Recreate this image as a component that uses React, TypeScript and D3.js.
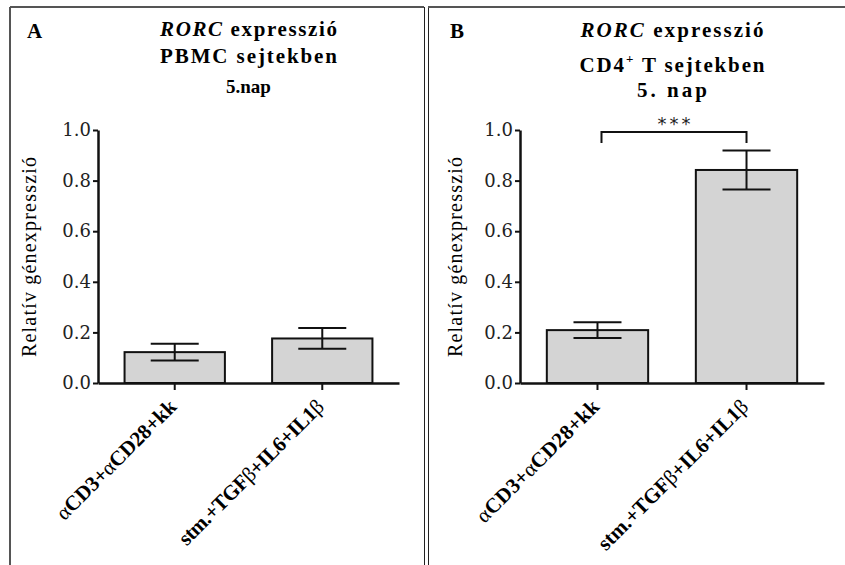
import React, { useRef, useEffect } from "react";
import * as d3 from "d3";

// x categories (greek letters are drawn in regular weight)
const categories = ["αCD3+αCD28+kk", "stm.+TGFβ+IL6+IL1β"];
const yTicks = [0, 0.2, 0.4, 0.6, 0.8, 1.0];

// panel A: PBMC
const pbmcMeans = [0.122, 0.176];
const pbmcErrors = [0.033, 0.041];

// panel B: CD4+ T cells
const cd4Means = [0.209, 0.842];
const cd4Errors = [0.031, 0.077];

const WIDTH = 845;
const HEIGHT = 565;
const SERIF = "'Liberation Serif', 'Times New Roman', serif";
const TICK_FONT = "'DejaVu Serif', serif";

type Panel = {
  letter: string;
  letterX: number;
  x0: number;
  x1: number;
  yLabelX: number;
  titleY: number[];
  titleW: (number | null)[];
  labelW: number[];
  means: number[];
  errors: number[];
  sig?: string;
};

function App() {
  const svgRef = useRef<SVGSVGElement>(null);

  useEffect(() => {
    const svg = d3.select(svgRef.current);
    svg.selectAll("*").remove();

    // frames
    svg.append("line").attr("x1", 10).attr("x2", 424).attr("y1", 7).attr("y2", 7)
      .attr("stroke", "#555").attr("stroke-width", 2);
    svg.append("line").attr("x1", 10).attr("x2", 10).attr("y1", 7).attr("y2", HEIGHT)
      .attr("stroke", "#555").attr("stroke-width", 2);
    svg.append("line").attr("x1", 424.5).attr("x2", 424.5).attr("y1", 7).attr("y2", HEIGHT)
      .attr("stroke", "#222").attr("stroke-width", 1);
    svg.append("line").attr("x1", 428.5).attr("x2", 428.5).attr("y1", 7).attr("y2", HEIGHT)
      .attr("stroke", "#222").attr("stroke-width", 1);
    svg.append("line").attr("x1", 428).attr("x2", WIDTH).attr("y1", 7).attr("y2", 7)
      .attr("stroke", "#555").attr("stroke-width", 2);

    const y = d3.scaleLinear().domain([0, 1]).range([383, 130]);

    const panels: Panel[] = [
      {
        letter: "A", letterX: 27, x0: 98, x1: 399, yLabelX: 30,
        titleY: [36, 63, 93], titleW: [177, 177, null], labelW: [160, 196],
        means: pbmcMeans, errors: pbmcErrors,
      },
      {
        letter: "B", letterX: 450, x0: 520, x1: 824, yLabelX: 456,
        titleY: [37, 72, 97], titleW: [183, 185, 70], labelW: [164, 203],
        means: cd4Means, errors: cd4Errors, sig: "***",
      },
    ];

    panels.forEach((p, pi) => {
      const g = svg.append("g");
      const cx = (p.x0 + p.x1) / 2;

      const x = d3.scaleBand<string>()
        .domain(categories)
        .range([p.x0, p.x1])
        .paddingInner(0.32)
        .paddingOuter(0.18);

      // panel letter
      g.append("text").attr("x", p.letterX).attr("y", 38)
        .attr("font-family", SERIF).attr("font-weight", "bold").attr("font-size", 21)
        .text(p.letter);

      // title
      const title = (line: number) => {
        const t = g.append("text").attr("x", cx).attr("y", p.titleY[line])
          .attr("text-anchor", "middle").attr("font-family", SERIF)
          .attr("font-weight", "bold").attr("font-size", line === 2 && pi === 0 ? 19 : 21);
        const w = p.titleW[line];
        if (w) t.attr("textLength", w).attr("lengthAdjust", "spacing");
        return t;
      };

      const t1 = title(0);
      t1.append("tspan").attr("font-style", "italic").text("RORC");
      t1.append("tspan").text(" expresszió");

      const t2 = title(1);
      if (pi === 0) {
        t2.text("PBMC sejtekben");
      } else {
        t2.append("tspan").text("CD4");
        t2.append("tspan").attr("dy", -9).attr("font-size", 13).text("+");
        t2.append("tspan").attr("dy", 9).text(" T sejtekben");
      }

      title(2).text(pi === 0 ? "5.nap" : "5. nap");

      // bars
      g.selectAll(".bar")
        .data(p.means)
        .enter()
        .append("rect")
        .attr("x", (_, i) => x(categories[i])!)
        .attr("y", (d) => y(d))
        .attr("width", x.bandwidth())
        .attr("height", (d) => y(0) - y(d))
        .attr("fill", "#d4d4d4")
        .attr("stroke", "#111")
        .attr("stroke-width", 2);

      // error bars
      p.means.forEach((m, i) => {
        const bx = x(categories[i])! + x.bandwidth() / 2;
        const hi = y(m + p.errors[i]);
        const lo = y(m - p.errors[i]);
        g.append("line").attr("x1", bx).attr("x2", bx).attr("y1", hi).attr("y2", lo)
          .attr("stroke", "#111").attr("stroke-width", 2);
        [hi, lo].forEach((yy) => {
          g.append("line").attr("x1", bx - 24).attr("x2", bx + 24).attr("y1", yy).attr("y2", yy)
            .attr("stroke", "#111").attr("stroke-width", 2);
        });
      });

      // y axis
      const yAxis = g.append("g")
        .attr("transform", `translate(${p.x0},0)`)
        .call(d3.axisLeft(y).tickValues(yTicks).tickFormat(d3.format(".1f")).tickSize(5).tickSizeOuter(0));
      yAxis.select(".domain").attr("stroke", "#111").attr("stroke-width", 2.5);
      yAxis.selectAll(".tick line").attr("stroke", "#111").attr("stroke-width", 2);
      yAxis.selectAll(".tick text")
        .attr("font-family", TICK_FONT).attr("font-size", 18).attr("fill", "#222").attr("x", -7);

      // x axis
      const xAxis = g.append("g")
        .attr("transform", `translate(0,${y(0)})`)
        .call(d3.axisBottom(x).tickSize(7).tickSizeOuter(0).tickFormat(() => ""));
      xAxis.select(".domain").attr("stroke", "#111").attr("stroke-width", 2.5);
      xAxis.selectAll(".tick line").attr("stroke", "#111").attr("stroke-width", 2);

      // rotated category labels
      categories.forEach((c, ci) => {
        const tx = x(c)! + x.bandwidth() / 2;
        const lab = g.append("text")
          .attr("transform", `translate(${tx + 3},${y(0) + 25}) rotate(-45)`)
          .attr("text-anchor", "end")
          .attr("font-family", SERIF).attr("font-size", 21).attr("font-weight", "bold")
          .attr("textLength", p.labelW[ci]).attr("lengthAdjust", "spacing");
        c.split(/([αβ])/).filter((s) => s).forEach((s) => {
          lab.append("tspan")
            .attr("font-weight", s === "α" || s === "β" ? "normal" : "bold")
            .text(s);
        });
      });

      // y title
      g.append("text")
        .attr("transform", `translate(${p.yLabelX + 6},${257}) rotate(-90)`)
        .attr("text-anchor", "middle")
        .attr("font-family", SERIF).attr("font-size", 20)
        .attr("textLength", 200).attr("lengthAdjust", "spacing")
        .text("Relatív génexpresszió");

      // significance bracket
      if (p.sig) {
        const xa = x(categories[0])! + x.bandwidth() / 2 + 4;
        const xb = x(categories[1])! + x.bandwidth() / 2;
        g.append("path")
          .attr("d", `M${xa},${143}V${132}H${xb}V${143}`)
          .attr("fill", "none").attr("stroke", "#111").attr("stroke-width", 2);
        g.append("text").attr("x", (xa + xb) / 2).attr("y", 130)
          .attr("text-anchor", "middle").attr("font-family", "'DejaVu Sans', sans-serif")
          .attr("font-size", 18).attr("fill", "#222")
          .attr("textLength", 33).attr("lengthAdjust", "spacing")
          .text(p.sig);
      }
    });
  }, []);

  return (
    <div>
      <svg
        ref={svgRef}
        width={WIDTH}
        height={HEIGHT}
        style={{ position: "absolute", left: 0, top: 0, background: "#fff" }}
      />
    </div>
  );
}

export default App;
